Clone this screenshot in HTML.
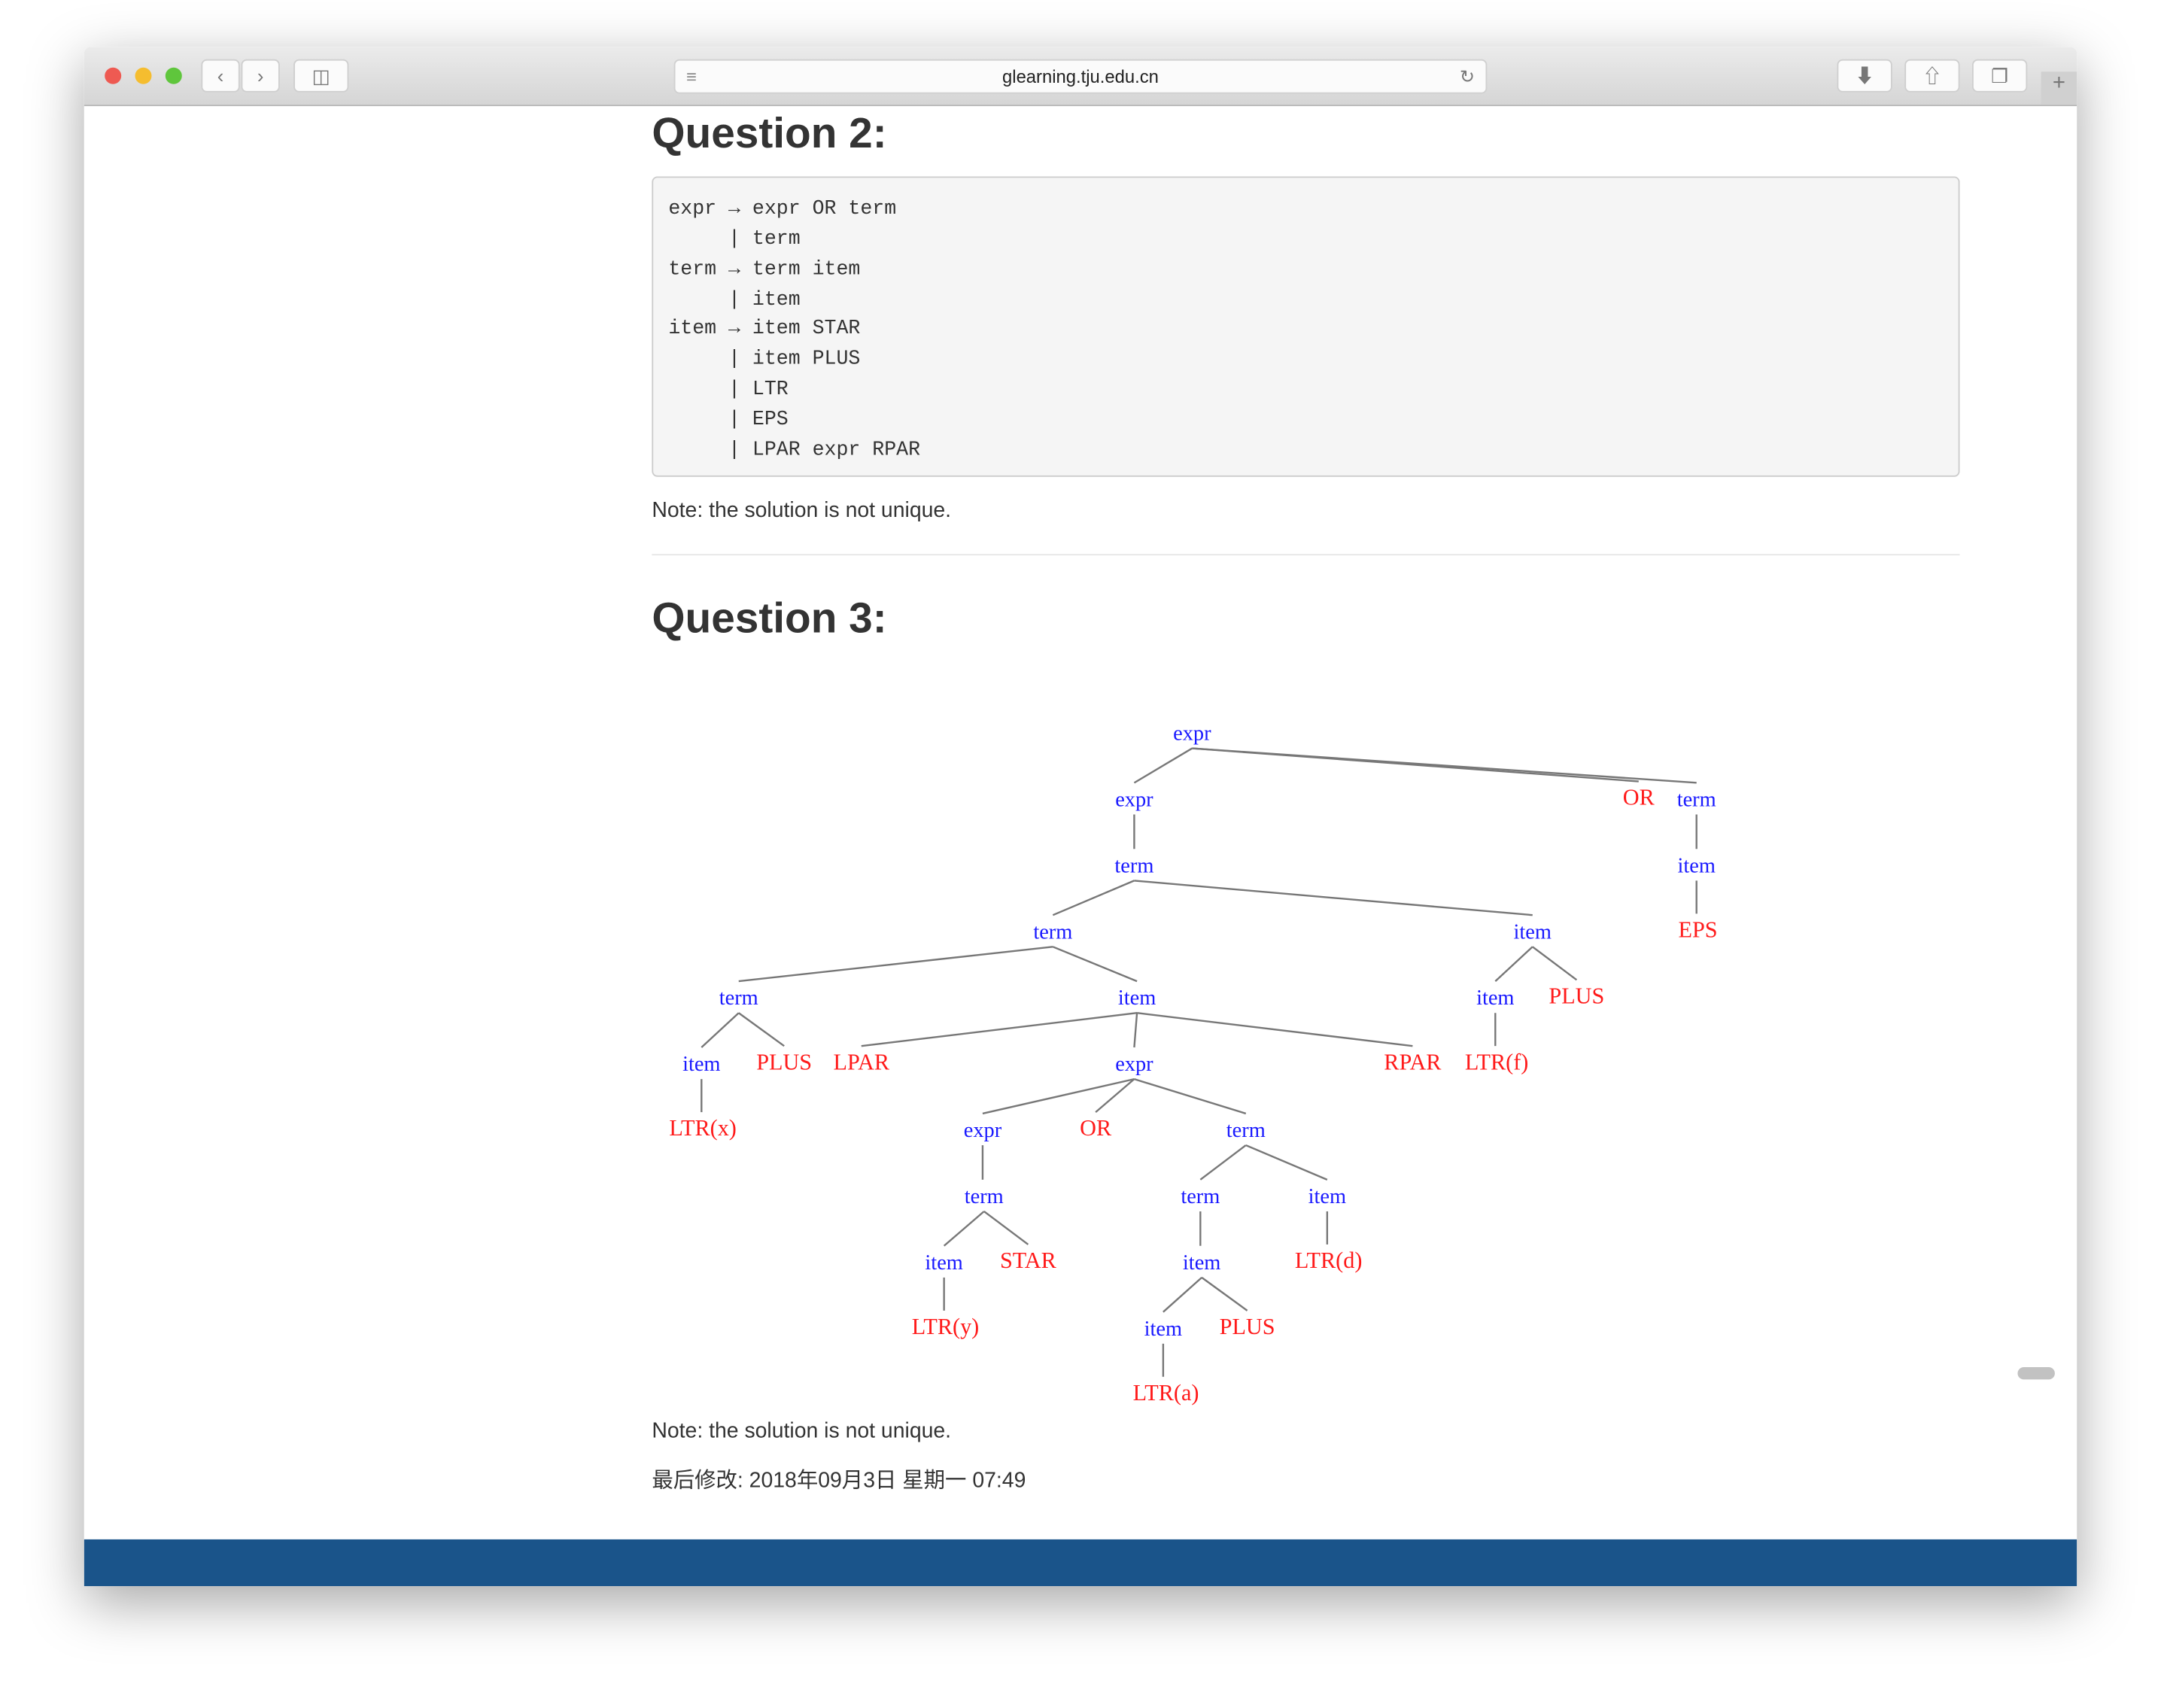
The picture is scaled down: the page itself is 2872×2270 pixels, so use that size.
<!DOCTYPE html>
<html><head><meta charset="utf-8"><style>
html,body{margin:0;padding:0;background:#fff;width:2872px;height:2270px;overflow:hidden}
#s{position:absolute;left:0;top:0;width:1568px;height:1239px;transform:scale(1.8316);transform-origin:0 0;font-family:"Liberation Sans","Noto Sans CJK SC",sans-serif}
.win{position:absolute;left:61px;top:34px;width:1446px;height:1117px;box-shadow:0 12px 40px rgba(0,0,0,.35);background:#fff;border-radius:5px 5px 0 0;overflow:hidden}
.bar{position:absolute;left:0;top:0;width:1446px;height:42px;background:linear-gradient(#ebebeb,#d5d5d5);border-bottom:1px solid #b5b5b5}
.dot{position:absolute;top:15px;width:12px;height:12px;border-radius:50%}
.btn{position:absolute;top:9px;height:24px;background:#fbfbfb;border:1px solid #cfcfcf;border-radius:4px;box-sizing:border-box;color:#777;font-size:14px;text-align:center;line-height:22px}
.url{position:absolute;left:428px;top:9px;width:590px;height:25px;background:#fbfbfb;border:1px solid #d0d0d0;border-radius:4px;box-sizing:border-box;font-size:13px;text-align:center;line-height:24px;color:#222}
.t{position:absolute;color:#333}
h2{position:absolute;margin:0;font-size:31px;font-weight:bold;color:#333}
pre{position:absolute;left:412px;top:94px;width:949px;height:218px;margin:0;box-sizing:border-box;background:#f5f5f5;border:1px solid #ccc;border-radius:4px;padding:13px 11px 7px;font-family:"Liberation Mono",monospace;font-size:14.5px;line-height:21.85px;color:#333}
</style></head><body><div id="s">
<div class="win">
<div class="bar">
<div class="dot" style="left:15px;background:#ee5a52"></div>
<div class="dot" style="left:37px;background:#f5bd2f"></div>
<div class="dot" style="left:59px;background:#5fc63c"></div>
<div class="btn" style="left:85px;width:28px">&#8249;</div>
<div class="btn" style="left:114px;width:28px">&#8250;</div>
<div class="btn" style="left:152px;width:40px">&#9707;</div>
<div class="url"><span style="position:absolute;left:8px;color:#888">&#8801;</span>glearning.tju.edu.cn<span style="position:absolute;right:8px;color:#777">&#8635;</span></div>
<div class="btn" style="left:1272px;width:40px">&#11015;</div>
<div class="btn" style="left:1321px;width:40px">&#8679;</div>
<div class="btn" style="left:1370px;width:40px">&#10064;</div>
<div style="position:absolute;left:1420px;top:18px;width:26px;height:24px;background:#d0d0d0;color:#777;text-align:center;font-size:16px">+</div>
</div>
<h2 style="left:412px;top:45px">Question 2:</h2>
<pre>expr → expr OR term
     | term
term → term item
     | item
item → item STAR
     | item PLUS
     | LTR
     | EPS
     | LPAR expr RPAR</pre>
<div class="t" style="left:412px;top:328px;font-size:15.5px">Note: the solution is not unique.</div>
<div style="position:absolute;left:412px;top:368px;width:949px;height:1px;background:#e6e6e6"></div>
<h2 style="left:412px;top:397px">Question 3:</h2>
<div class="t" style="left:412px;top:996px;font-size:15.5px">Note: the solution is not unique.</div>
<div class="t" style="left:412px;top:1028px;font-size:15.5px">最后修改: 2018年09月3日 星期一 07:49</div>
<div style="position:absolute;left:1403px;top:958px;width:27px;height:9px;border-radius:5px;background:#c2c2c2"></div>
<div style="position:absolute;left:0;top:1083px;width:1446px;height:34px;background:#1a548a"></div>
</div>
<svg style="position:absolute;left:0;top:0" width="1568" height="1239" font-family="Liberation Serif,serif" font-size="16" text-anchor="middle">
<g stroke="#777" stroke-width="1.3" fill="none" id="e"></g>
<g id="n"></g>
</svg>
</div>
<script>
var N={a:[865,532,'expr',0],b:[823,580,'expr',0],c:[1189,579,'OR',1],d:[1231,580,'term',0],e:[823,628,'term',0],f:[1231,628,'item',0],g:[1232,675,'EPS',1],h:[764,676,'term',0],i:[1112,676,'item',0],j:[536,724,'term',0],k:[825,724,'item',0],l:[1085,724,'item',0],m:[1144,723,'PLUS',1],n:[509,772,'item',0],o:[569,771,'PLUS',1],p:[625,771,'LPAR',1],q:[823,772,'expr',0],r:[1025,771,'RPAR',1],s:[1086,771,'LTR(f)',1],t:[510,819,'LTR(x)',1],u:[713,820,'expr',0],v:[795,819,'OR',1],w:[904,820,'term',0],x:[714,868,'term',0],y:[871,868,'term',0],z:[963,868,'item',0],A:[685,916,'item',0],B:[746,915,'STAR',1],C:[872,916,'item',0],D:[964,915,'LTR(d)',1],E:[686,963,'LTR(y)',1],F:[844,964,'item',0],G:[905,963,'PLUS',1],H:[846,1011,'LTR(a)',1]};
var E=['ab','ac','ad','be','df','fg','eh','ei','hj','hk','il','im','jn','jo','kp','kq','kr','ls','nt','qu','qv','qw','ux','wy','wz','xA','xB','yC','zD','AE','CF','CG','FH'];
var single={be:1,df:1,fg:1,ls:1,nt:1,ux:1,yC:1,zD:1,AE:1,FH:1};
var ns='http://www.w3.org/2000/svg',ge=document.getElementById('e'),gn=document.getElementById('n');
E.forEach(function(p){var a=N[p[0]],b=N[p[1]];var x2=single[p]?a[0]:b[0];var l=document.createElementNS(ns,'line');l.setAttribute('x1',a[0]);l.setAttribute('y1',a[1]+11);l.setAttribute('x2',x2);l.setAttribute('y2',b[1]-12);ge.appendChild(l);});
for(var k in N){var v=N[k];var t=document.createElementNS(ns,'text');t.setAttribute('x',v[0]);t.setAttribute('y',v[1]+5);t.setAttribute('fill',v[3]?'#ff1a1a':'#1a1aff');t.setAttribute('font-size',v[3]?'16.5':'15.5');t.textContent=v[2];gn.appendChild(t);}
</script>
</body></html>
